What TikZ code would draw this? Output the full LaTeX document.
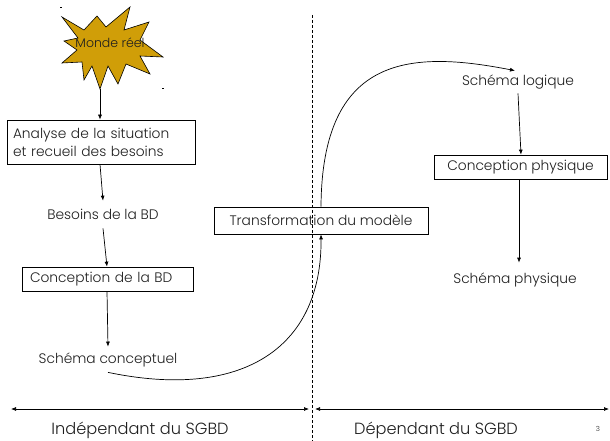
\documentclass[tikz,border=0pt]{standalone}
\usepackage{fontspec}
\setmainfont{Poppins}[UprightFont={* Light}]
\usetikzlibrary{arrows.meta}
\definecolor{gold}{RGB}{208,158,8}
\definecolor{ink}{RGB}{30,30,30}
\begin{document}
\begin{tikzpicture}[x=1pt,y=-1pt,
  line width=0.7pt,
  arr/.style={-{Latex[length=5pt,width=4pt]}, line width=0.7pt},
  darr/.style={{Latex[length=5pt,width=4pt]}-{Latex[length=5pt,width=4pt]}, line width=0.7pt},
  box/.style={draw, line width=0.7pt, inner ysep=0pt, text=ink, font=\fontsize{13.8}{18}\selectfont},
  lbl/.style={inner sep=0pt, text=ink, font=\fontsize{13.8}{16}\selectfont},
  big/.style={inner sep=0pt, text=ink, font=\fontsize{16.2}{18}\selectfont}]
\useasboundingbox (0,0) rectangle (610,441);
% star
\draw[fill=gold, line width=0.6pt]
  (62,17) -- (84,30) -- (97,16) -- (106,27) -- (130,7) -- (124,30) -- (149,22)
  -- (140,40) -- (163,57) -- (140,56) -- (150,74) -- (126,64) -- (118,84)
  -- (108,66) -- (100,89) coordinate (startip) -- (92,66) -- (84,80) -- (82,62)
  -- (62,63) -- (77,50) -- (64,41) -- (78,38) -- cycle;
\node[inner sep=0pt, text=ink, font=\fontsize{12.5}{14}\selectfont] (monde) at (110,43) {Monde réel};
\draw[line width=0.8pt] (60,7) -- (62,7);
\draw[line width=0.8pt] (162,88) -- (164,88);
% left column
\node[box, inner xsep=6pt, text width=176pt, minimum height=44pt, align=left] (analyse) at (101,142)
  {Analyse de la situation\\et recueil des besoins};
\node[lbl, minimum height=27pt] (besoins) at (103,214.5) {Besoins de la BD};
\node[box, inner xsep=8pt, text width=155pt, minimum height=24pt, align=left] (concbd) at (107.5,279) {Conception de la BD};
\node[lbl, minimum height=25pt] (schema) at (108,359.5) {Schéma conceptuel};
% middle
\node[box, minimum width=214pt, minimum height=27pt] (transfo) at (321,220.5) {Transformation du modèle};
% right column
\node[lbl, minimum height=22pt] (slog) at (518,82) {Schéma logique};
\node[box, minimum width=173pt, minimum height=24pt] (concphys) at (520.5,167) {Conception physique};
\node[lbl, minimum height=34pt] (sphys) at (515,280) {Schéma physique};
% arrows
\draw[arr] (startip) -- ([xshift=-1pt]analyse.north);
\draw[arr] ([xshift=-1pt]analyse.south) -- (besoins.north);
\draw[arr] (besoins.south) -- ([xshift=-0.5pt]concbd.north);
\draw[arr] ([xshift=-0.5pt]concbd.south) -- (schema.north);
\draw[arr] (schema.south) .. controls (240,400) and (322,350) .. (transfo.south);
\draw[arr] (transfo.north) .. controls (322,55) and (410,50) .. ([xshift=-3pt]slog.north);
\draw[arr] (slog.south) -- ([xshift=0.5pt]concphys.north);
\draw[arr] ([xshift=-1.5pt]concphys.south) -- ([xshift=4pt]sphys.north);
% dashed separator
\coordinate (dtop) at (312,15);
\coordinate (dbot) at (312,441);
\draw[dashed, dash pattern=on 3pt off 2pt, line width=0.6pt] (dtop) -- (dbot);
% bottom
\coordinate (la) at (11,409);
\coordinate (lb) at (309,409);
\coordinate (ra) at (315,409);
\coordinate (rb) at (609,409);
\draw[darr] (la) -- (lb);
\draw[darr] (ra) -- (rb);
\node[big] (indep) at (140,430) {Indépendant du SGBD};
\node[big] (dep) at (436,430) {Dépendant du SGBD};
\node[inner sep=0pt, text=ink, font=\fontsize{7}{8}\selectfont] (pnum) at (598,429) {3};
\end{tikzpicture}
\end{document}
